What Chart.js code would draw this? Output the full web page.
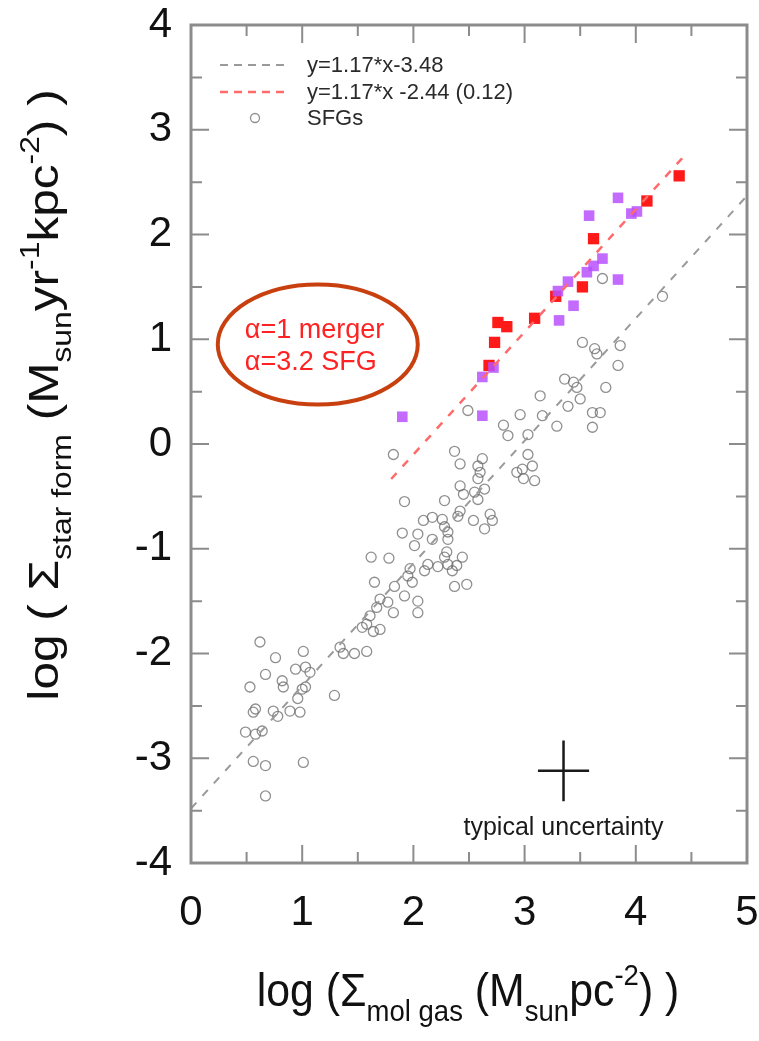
<!DOCTYPE html>
<html>
<head>
<meta charset="utf-8">
<script src="https://cdn.jsdelivr.net/npm/chart.js@4.4.0/dist/chart.umd.min.js"></script>
<style>
  html, body { margin: 0; padding: 0; background: #fff; }
  #wrap { width: 759px; height: 1041px; position: relative; }
</style>
</head>
<body>
<div id="wrap"><canvas id="kschart"></canvas></div>
<script>
/* ── DATA ── */
// normal star forming galaxies (open grey circles)
const sfgX = [3.70, 4.24, 3.52, 3.63, 3.65, 3.86, 3.84, 3.36, 3.44, 3.47, 3.73, 3.14, 3.50, 3.39, 2.49, 2.96,
  3.16, 3.61, 3.68, 2.81, 3.29, 3.61, 2.85, 3.03, 2.37, 2.42, 2.62, 2.58, 3.03, 2.98, 3.07,
  1.82, 2.60, 2.58, 2.93, 2.99, 3.09, 1.92, 2.28, 2.42, 2.45, 2.55, 2.64, 2.58, 2.42, 2.40, 2.69,
  2.71, 2.54, 2.64, 2.17, 2.09, 2.26, 2.28, 2.31, 2.04, 2.17, 2.31, 1.90, 2.01, 2.30, 2.28, 2.31,
  2.44, 2.39, 2.13, 2.10, 2.22, 2.35, 1.62, 1.78, 1.97, 1.95, 1.99, 2.37, 2.48, 1.65, 1.83, 1.92,
  2.04, 2.04, 1.70, 1.77, 1.67, 1.82, 1.61, 1.58, 1.70, 1.64,
  1.54, 1.37, 1.47, 1.58, 1.34, 0.62, 1.01, 0.76, 0.94, 1.03, 1.07, 0.67, 0.82, 0.83, 1.00, 1.03,
  0.53, 1.29, 0.96, 0.58, 0.56, 0.74, 0.78, 0.89, 0.98, 0.49, 0.58, 0.64, 0.56, 0.67, 1.01, 0.67];
const sfgY = [1.58, 1.41, 0.97, 0.91, 0.86, 0.94, 0.75, 0.62, 0.59, 0.54, 0.54, 0.46, 0.43, 0.36, 0.32, 0.28,
  0.27, 0.30, 0.30, 0.18, 0.17, 0.16, 0.08, 0.09, -0.07, -0.19, -0.14, -0.21, -0.10, -0.24, -0.21,
  -0.10, -0.27, -0.33, -0.27, -0.33, -0.35, -0.55, -0.54, -0.40, -0.48, -0.46, -0.43, -0.53, -0.64, -0.69, -0.67,
  -0.73, -0.73, -0.81, -0.70, -0.73, -0.72, -0.79, -0.84, -0.86, -0.91, -0.91, -0.85, -0.97, -1.03, -1.08, -1.15,
  -1.08, -1.16, -1.15, -1.21, -1.17, -1.21, -1.08, -1.09, -1.19, -1.26, -1.32, -1.36, -1.34, -1.32, -1.36, -1.45,
  -1.50, -1.61, -1.48, -1.51, -1.56, -1.61, -1.64, -1.72, -1.77, -1.79,
  -1.75, -2.00, -2.00, -1.98, -1.94, -1.89, -1.98, -2.04, -2.15, -2.13, -2.18, -2.20, -2.26, -2.32, -2.34, -2.32,
  -2.32, -2.40, -2.43, -2.53, -2.56, -2.55, -2.60, -2.55, -2.56, -2.75, -2.77, -2.74, -3.03, -3.07, -3.04, -3.36];

// mergers (red filled squares)
const mergerX = [4.39, 4.10, 3.62, 3.52, 3.28, 3.09, 2.76, 2.84, 2.73, 2.68];
const mergerY = [2.56, 2.32, 1.96, 1.50, 1.41, 1.20, 1.16, 1.12, 0.97, 0.75];

// purple filled squares
const purpleX = [3.84, 3.58, 3.96, 4.01, 3.70, 3.62, 3.56, 3.84, 3.39, 3.44, 3.31, 3.30, 2.72, 2.62, 2.62, 1.90];
const purpleY = [2.35, 2.18, 2.20, 2.22, 1.77, 1.70, 1.64, 1.57, 1.55, 1.32, 1.18, 1.46, 0.73, 0.64, 0.27, 0.26];

// fit lines (end points)
const fitSfgX = [0, 5];
const fitSfgY = [-3.48, 2.37];
const fitMergerX = [1.80, 4.45];
const fitMergerY = [-0.334, 2.767];

// typical uncertainty cross
const errX = [3.12, 3.58, null, 3.35, 3.35];
const errY = [-3.12, -3.12, null, -2.83, -3.41];

const legendLabels = ['y=1.17*x-3.48', 'y=1.17*x -2.44 (0.12)', 'SFGs'];
const xTicks = [0, 1, 2, 3, 4, 5];
const yTicks = [-4, -3, -2, -1, 0, 1, 2, 3, 4];

const C = {
  grey:   'rgba(105,105,105,0.75)',
  greyLn: '#9a9a9a',
  red:    '#ff1a1a',
  redLn:  '#ff6b6b',
  purple: 'rgba(185,80,255,0.85)',
  frame:  '#8c8c8c',
  ellipse:'#c8400f',
  text:   '#111111',
};
const FONT = "'Liberation Sans', Arial, Helvetica, sans-serif";

const toPts = (xs, ys) => xs.map((x, i) => ({ x, y: ys[i] }));

/* ── DRAW MIXED TEXT RUNS (sub / sup) ── */
function drawRuns(ctx, runs, cx, cy, base, small) {
  const fontOf = r => (r.s === 'n' ? base : small) + 'px ' + FONT;
  let total = 0;
  runs.forEach(r => { ctx.font = fontOf(r); total += ctx.measureText(r.t).width; });
  let x = cx - total / 2;
  ctx.textBaseline = 'alphabetic';
  ctx.textAlign = 'left';
  runs.forEach(r => {
    ctx.font = fontOf(r);
    const dy = r.s === 'sub' ? base * 0.32 : r.s === 'sup' ? -base * 0.45 : 0;
    ctx.fillText(r.t, x, cy + dy);
    x += ctx.measureText(r.t).width;
  });
}

/* ── FRAME, TICKS, LEGEND, ANNOTATIONS ── */
const decorPlugin = {
  id: 'decor',
  beforeDatasetsDraw(chart) {
    const { ctx, scales: { x, y } } = chart;
    ctx.save();
    // ellipse annotation
    const ex = x.getPixelForValue(1.14), ey = y.getPixelForValue(0.95);
    ctx.strokeStyle = C.ellipse;
    ctx.lineWidth = 4;
    ctx.beginPath();
    ctx.ellipse(ex, ey, 100, 60, 0, 0, Math.PI * 2);
    ctx.stroke();
    ctx.fillStyle = '#ff2222';
    ctx.font = '27px ' + FONT;
    ctx.textAlign = 'left';
    ctx.textBaseline = 'middle';
    ctx.fillText('\u03b1=1 merger', ex - 73, ey - 14);
    ctx.fillText('\u03b1=3.2 SFG', ex - 73, ey + 18);

    // uncertainty label
    ctx.fillStyle = '#1a1a1a';
    ctx.font = '25px ' + FONT;
    ctx.textAlign = 'center';
    ctx.fillText('typical uncertainty', x.getPixelForValue(3.35), 828);

    // legend
    const lx0 = 220, lx1 = 290, tx = 307;
    const rows = [65, 92, 118];
    ctx.lineWidth = 2;
    ctx.setLineDash([8, 6]);
    ctx.strokeStyle = C.greyLn;
    ctx.beginPath(); ctx.moveTo(lx0, rows[0]); ctx.lineTo(lx1, rows[0]); ctx.stroke();
    ctx.strokeStyle = C.redLn;
    ctx.lineWidth = 2.5;
    ctx.beginPath(); ctx.moveTo(lx0, rows[1]); ctx.lineTo(lx1, rows[1]); ctx.stroke();
    ctx.setLineDash([]);
    ctx.strokeStyle = C.grey;
    ctx.lineWidth = 1.3;
    ctx.beginPath(); ctx.arc(255, rows[2], 4.5, 0, Math.PI * 2); ctx.stroke();
    ctx.fillStyle = '#2a2a2a';
    ctx.font = '22px ' + FONT;
    ctx.textAlign = 'left';
    legendLabels.forEach((t, i) => ctx.fillText(t, tx, rows[i] + 1));
    ctx.restore();
  },
  afterDraw(chart) {
    const { ctx, chartArea: a, scales: { x, y } } = chart;
    ctx.save();
    ctx.strokeStyle = C.frame;
    ctx.lineWidth = 2;
    for (let v = 0; v <= 5.001; v += 0.5) {
      const px = x.getPixelForValue(v);
      const len = Math.abs(v - Math.round(v)) < 0.01 ? 18 : 11;
      ctx.beginPath();
      ctx.moveTo(px, a.bottom); ctx.lineTo(px, a.bottom - len);
      ctx.moveTo(px, a.top); ctx.lineTo(px, a.top + len);
      ctx.stroke();
    }
    for (let v = -4; v <= 4.001; v += 0.5) {
      const py = y.getPixelForValue(v);
      const len = Math.abs(v - Math.round(v)) < 0.01 ? 18 : 11;
      ctx.beginPath();
      ctx.moveTo(a.left, py); ctx.lineTo(a.left + len, py);
      ctx.moveTo(a.right, py); ctx.lineTo(a.right - len, py);
      ctx.stroke();
    }
    ctx.lineWidth = 3;
    ctx.strokeRect(a.left, a.top, a.width, a.height);

    // axis titles
    ctx.fillStyle = C.text;
    ctx.save();
    ctx.translate(468, 1006);
    ctx.scale(1.02, 1.1);
    drawRuns(ctx, [
      { t: 'log (\u03a3', s: 'n' }, { t: 'mol gas', s: 'sub' }, { t: ' (M', s: 'n' },
      { t: 'sun', s: 'sub' }, { t: 'pc', s: 'n' }, { t: '-2', s: 'sup' }, { t: ') )', s: 'n' },
    ], 0, 0, 42, 27);
    ctx.restore();
    ctx.translate(58, 395);
    ctx.rotate(-Math.PI / 2);
    ctx.scale(1.18, 1);
    drawRuns(ctx, [
      { t: 'log ( \u03a3', s: 'n' }, { t: 'star form', s: 'sub' }, { t: ' (M', s: 'n' },
      { t: 'sun', s: 'sub' }, { t: 'yr', s: 'n' }, { t: '-1', s: 'sup' }, { t: 'kpc', s: 'n' },
      { t: '-2', s: 'sup' }, { t: ') )', s: 'n' },
    ], 0, 0, 42, 27);
    ctx.restore();
  },
};

const zeroPad = s => { s.paddingLeft = 0; s.paddingRight = 0; s.paddingTop = 0; s.paddingBottom = 0; };

const ctx = document.getElementById('kschart');
new Chart(ctx, {
  type: 'scatter',
  data: {
    datasets: [
      {
        type: 'line', data: toPts(fitSfgX, fitSfgY),
        borderColor: C.greyLn, borderWidth: 2, borderDash: [8, 9], pointRadius: 0,
      },
      {
        type: 'line', data: toPts(fitMergerX, fitMergerY),
        borderColor: C.redLn, borderWidth: 2.5, borderDash: [8, 9], pointRadius: 0,
      },
      {
        data: toPts(sfgX, sfgY),
        pointStyle: 'circle', pointRadius: 5, borderWidth: 1.3,
        borderColor: C.grey, backgroundColor: 'rgba(0,0,0,0)',
      },
      {
        data: toPts(purpleX, purpleY),
        pointStyle: 'rect', pointRadius: 7.5, borderWidth: 0,
        backgroundColor: C.purple, borderColor: C.purple,
      },
      {
        data: toPts(mergerX, mergerY),
        pointStyle: 'rect', pointRadius: 8, borderWidth: 0,
        backgroundColor: C.red, borderColor: C.red,
      },
      {
        type: 'line', data: toPts(errX, errY), spanGaps: false,
        borderColor: '#1a1a1a', borderWidth: 2.5, pointRadius: 0,
      },
    ],
  },
  plugins: [decorPlugin],
  options: {
    responsive: true,
    maintainAspectRatio: false,
    animation: false,
    layout: { padding: { left: 0, top: 25, right: 12, bottom: 0 } },
    plugins: { legend: { display: false }, tooltip: { enabled: false } },
    scales: {
      x: {
        type: 'linear', min: 0, max: 5,
        afterFit: s => { s.height = 178; zeroPad(s); },
        afterBuildTicks: s => { s.ticks = xTicks.map(v => ({ value: v })); },
        grid: { display: false, drawTicks: false },
        border: { display: false },
        ticks: { color: C.text, padding: 25, font: { family: FONT, size: 42 } },
      },
      y: {
        type: 'linear', min: -4, max: 4,
        afterFit: s => { s.width = 191; zeroPad(s); },
        afterBuildTicks: s => { s.ticks = yTicks.map(v => ({ value: v })); },
        grid: { display: false, drawTicks: false },
        border: { display: false },
        ticks: { color: C.text, padding: 19, font: { family: FONT, size: 42 } },
      },
    },
  },
});
</script>
</body>
</html>
